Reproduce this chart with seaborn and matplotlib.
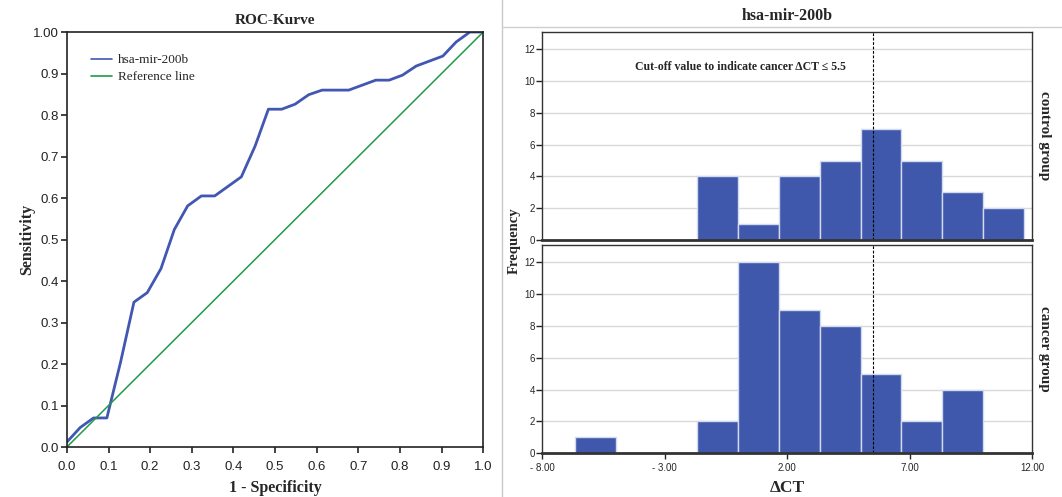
import numpy as np
import pandas as pd
import seaborn as sns
import matplotlib.pyplot as plt
from matplotlib.lines import Line2D
from matplotlib.ticker import FuncFormatter

# ROC curve points (1 - specificity, sensitivity)
roc_fpr = [0.0, 0.032, 0.064, 0.096, 0.129, 0.161, 0.193, 0.226, 0.258, 0.290,
           0.323, 0.355, 0.419, 0.452, 0.484, 0.516, 0.548, 0.581, 0.613, 0.677,
           0.742, 0.774, 0.806, 0.839, 0.903, 0.935, 0.968, 1.0]
roc_tpr = [0.012, 0.047, 0.070, 0.070, 0.205, 0.349, 0.372, 0.430, 0.524, 0.581,
           0.605, 0.605, 0.651, 0.725, 0.814, 0.814, 0.826, 0.849, 0.860, 0.860,
           0.884, 0.884, 0.896, 0.918, 0.942, 0.976, 1.0, 1.0]

# histogram bins (delta CT) and counts per group
bin_edges = [-6.67, -5.0, -3.33, -1.67, 0.0, 1.67, 3.33, 5.0, 6.67, 8.33, 10.0, 11.67]
bin_centers = [-5.83, -4.17, -2.5, -0.83, 0.83, 2.5, 4.17, 5.83, 7.5, 9.17, 10.83]
control_counts = [0, 0, 0, 4, 1, 4, 5, 7, 5, 3, 2]
cancer_counts = [1, 0, 0, 2, 12, 9, 8, 5, 2, 4, 0]
cutoff = 5.5

sns.set_style("white")
plt.rcParams['font.family'] = ['Liberation Sans', 'DejaVu Sans']
serif = ['Liberation Serif', 'DejaVu Serif']

fig = plt.figure(figsize=(10.62, 4.97), dpi=100)

# ---- ROC curve ----
ax = fig.add_axes([0.063, 0.1006, 0.392, 0.835])
roc_df = pd.DataFrame({'fpr': roc_fpr, 'tpr': roc_tpr})
sns.lineplot(data=roc_df, x='fpr', y='tpr', ax=ax, sort=False, estimator=None,
             color='#4257b2', linewidth=2, label='hsa-mir-200b')
sns.lineplot(x=[0, 1], y=[0, 1], ax=ax, color='#1e9a4a', linewidth=1.1,
             label='Reference line')
ax.set_xlim(0, 1)
ax.set_ylim(0, 1)
ticks = np.round(np.arange(0, 1.01, 0.1), 1)
ax.set_xticks(ticks)
ax.set_yticks(ticks)
ax.set_xticklabels([f'{t:.1f}' for t in ticks])
ax.set_yticklabels([f'{t:.1f}' for t in ticks[:-1]] + ['1.00'])
ax.tick_params(axis='both', which='both', length=4, width=1.2, labelsize=9.5,
               colors='#222222', bottom=True, left=True)
ax.tick_params(axis='x', pad=6)
ax.tick_params(axis='y', pad=2)
for s in ax.spines.values():
    s.set_color('#222222')
    s.set_linewidth(1.2)
ax.set_xlabel('1 - Specificity', fontsize=11.5, fontweight='bold', family=serif, labelpad=5)
ax.set_ylabel('Sensitivity', fontsize=11.5, fontweight='bold', family=serif)
ax.yaxis.set_label_coords(-0.075, 0.5)
ax.set_title('ROC-Kurve', fontsize=11, fontweight='bold', family=serif, pad=6)
leg = ax.legend(loc='upper left', bbox_to_anchor=(0.03, 0.975), frameon=False,
                handlelength=1.6, handletextpad=0.4, labelspacing=0.35,
                prop={'family': serif, 'size': 9.5})
for h in leg.get_lines():
    h.set_linewidth(1.2)

# ---- histograms ----
def draw_hist(axh, counts, group):
    sns.histplot(x=bin_centers, weights=counts, bins=bin_edges, ax=axh,
                 color='#3f58ab', edgecolor='#d3daf0', linewidth=1, alpha=1)
    axh.set_xlim(-8, 12)
    axh.set_ylim(0, 13.1)
    axh.set_yticks(range(0, 13, 2))
    axh.yaxis.grid(True, color='#d9d9d9', linewidth=1)
    axh.set_axisbelow(True)
    axh.axvline(cutoff, color='black', linestyle=(0, (2.5, 1.5)), linewidth=0.8)
    axh.set_ylabel('')
    axh.tick_params(axis='y', length=4, width=1, labelsize=7, pad=1, left=True)
    for s in axh.spines.values():
        s.set_color('#333333')
        s.set_linewidth(1)
    axh.spines['bottom'].set_linewidth(2)
    axh.text(1.012, 0.5, group, transform=axh.transAxes, rotation=270,
             va='center', ha='left', fontsize=11, fontweight='bold', family=serif)

ax1 = fig.add_axes([0.5104, 0.5171, 0.4614, 0.4185])
ax2 = fig.add_axes([0.5104, 0.0885, 0.4614, 0.4185])
draw_hist(ax1, control_counts, 'control group')
draw_hist(ax2, cancer_counts, 'cancer group')
ax1.set_xticks([])
ax1.set_xlabel('')
ax2.set_xticks([-8, -3, 2, 7, 12])
ax2.xaxis.set_major_formatter(FuncFormatter(
    lambda v, p: f'- {abs(v):.2f}' if v < 0 else f'{v:.2f}'))
ax2.tick_params(axis='x', length=4, width=1, labelsize=7, pad=3, bottom=True)
ax2.set_xlabel('ΔCT', fontsize=12.5, fontweight='bold', family=serif, labelpad=5)

ax1.text(0.08, 10.9, 'Cut-off value to indicate cancer ΔCT ≤ 5.5', ha='center',
         va='center', fontsize=8.5, fontweight='bold', family=serif)

fig.text(0.484, 0.515, 'Frequency', rotation=90, va='center', ha='center',
         fontsize=10.5, fontweight='bold', family=serif)
ax1.set_title('hsa-mir-200b', fontsize=11.5, fontweight='bold', family=serif, pad=9)

# light frame around the right panel
fig.add_artist(Line2D([502 / 1062, 502 / 1062], [0, 1], transform=fig.transFigure,
                      color='#c8c8c8', linewidth=1))
fig.add_artist(Line2D([502 / 1062, 1], [1 - 27 / 497, 1 - 27 / 497],
                      transform=fig.transFigure, color='#d0d0d0', linewidth=1))

fig.savefig('out.png', dpi=100)
